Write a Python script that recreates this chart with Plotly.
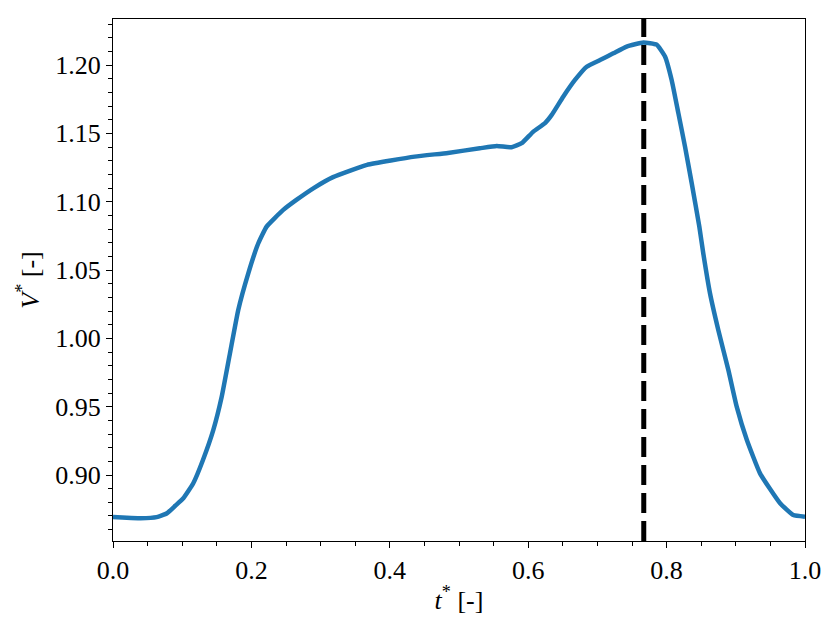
import plotly.graph_objects as go

t_vals = [0.0, 0.02, 0.04, 0.063, 0.078, 0.090, 0.1016, 0.116, 0.130, 0.145, 0.157, 0.169, 0.181,
          0.1955, 0.210, 0.222, 0.246, 0.265, 0.290, 0.318, 0.367, 0.436, 0.484, 0.530, 0.5545,
          0.576, 0.5906, 0.6074, 0.6243, 0.634, 0.6508, 0.6676, 0.6845, 0.7038, 0.723, 0.7423,
          0.7663, 0.7857, 0.7977, 0.8073, 0.817, 0.8266, 0.8363, 0.8473, 0.853, 0.8627, 0.8747,
          0.8892, 0.9013, 0.916, 0.935, 0.964, 0.983, 1.0]
v_vals = [0.8693, 0.8687, 0.8684, 0.8692, 0.8720, 0.8775, 0.8830, 0.8940, 0.9110, 0.9330, 0.9570,
          0.9890, 1.0208, 1.0476, 1.0696, 1.0818, 1.0940, 1.1013, 1.1100, 1.1180, 1.1270, 1.1330,
          1.1357, 1.1391, 1.1408, 1.1399, 1.1428, 1.1513, 1.1575, 1.1635, 1.1770, 1.1891, 1.1988,
          1.2037, 1.2086, 1.2135, 1.2165, 1.2149, 1.2063, 1.1891, 1.1648, 1.1403, 1.1135, 1.0817,
          1.0622, 1.0330, 1.0061, 0.9769, 0.9500, 0.9256, 0.9012, 0.8793, 0.8707, 0.8695]

t_peak = 0.767

x_ticks = [0.0, 0.2, 0.4, 0.6, 0.8, 1.0]
y_ticks = [0.90, 0.95, 1.00, 1.05, 1.10, 1.15, 1.20]

font_family = "Liberation Serif, serif"

fig = go.Figure()
fig.add_trace(go.Scatter(x=t_vals, y=v_vals, mode="lines",
                         line=dict(color="#1f77b4", width=4.5, shape="spline", smoothing=0.4),
                         showlegend=False))
fig.add_vline(x=t_peak, line=dict(color="black", width=5, dash="20px,8px"))

axis_common = dict(showline=True, linecolor="black", linewidth=1.2, mirror=True,
                   ticks="outside", ticklen=6, tickwidth=1.2, tickcolor="black",
                   showgrid=False, zeroline=False, automargin=False,
                   tickfont=dict(family=font_family, size=26, color="black"))

fig.update_xaxes(range=[0, 1], tickvals=x_ticks, tickformat=".1f",
                 minor=dict(ticks="outside", dtick=0.05, ticklen=3.5, tickwidth=1, tickcolor="black"),
                 title=dict(text="<i>t</i><sup>*</sup> [-]", font=dict(family=font_family, size=26, color="black"),
                            standoff=6),
                 **axis_common)
fig.update_yaxes(range=[0.8517, 1.2337], tickvals=y_ticks, tickformat=".2f",
                 minor=dict(ticks="outside", dtick=0.01, tick0=0.85, ticklen=3.5, tickwidth=1, tickcolor="black"),
                 title=dict(text="<i>V</i><sup>*</sup> [-]", font=dict(family=font_family, size=26, color="black"),
                            standoff=8),
                 **axis_common)

fig.update_layout(width=814, height=607, plot_bgcolor="white", paper_bgcolor="white",
                  margin=dict(l=105, r=17, t=11, b=74))

fig.write_html("out.html")
